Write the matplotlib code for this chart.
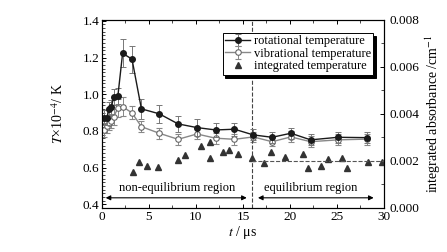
import numpy as np
import matplotlib
matplotlib.use("Agg")
from matplotlib import pyplot as plt
from matplotlib.ticker import MultipleLocator

plt.rcParams['font.family'] = ['Liberation Serif', 'DejaVu Serif']
plt.rcParams['mathtext.fontset'] = 'stix'

# time points (us)
t = [0.25, 0.5, 0.8, 1.0, 1.25, 1.7, 2.2, 3.2, 4.2, 6.1, 8.1, 10.1, 12.1, 14.1,
     16.1, 18.1, 20.1, 22.2, 25.1, 28.2]
# rotational temperature (x10^4 K)
rot = [0.872, 0.872, 0.92, 0.929, 0.984, 0.991, 1.223, 1.191, 0.92, 0.893, 0.838,
       0.818, 0.805, 0.809, 0.778, 0.765, 0.787, 0.751, 0.765, 0.763]
rot_err = [0.04, 0.04, 0.04, 0.04, 0.045, 0.045, 0.076, 0.074, 0.053, 0.05, 0.045,
           0.045, 0.04, 0.035, 0.03, 0.03, 0.03, 0.03, 0.03, 0.03]
# vibrational temperature (x10^4 K)
vib = [0.805, 0.827, 0.843, 0.854, 0.876, 0.925, 0.932, 0.898, 0.823, 0.787, 0.754,
       0.783, 0.760, 0.754, 0.767, 0.741, 0.767, 0.741, 0.751, 0.755]
vib_err = [0.04, 0.04, 0.04, 0.04, 0.045, 0.05, 0.05, 0.035, 0.03, 0.03, 0.03,
           0.03, 0.03, 0.03, 0.025, 0.025, 0.03, 0.03, 0.03, 0.03]

# integrated absorbance (cm^-1)
t_abs = [3.34, 3.93, 4.81, 5.97, 8.07, 8.79, 10.5, 11.53, 11.47, 12.86, 13.56, 14.44,
         15.96, 17.2, 17.97, 19.52, 21.41, 21.93, 23.29, 24.06, 25.49, 26.04, 28.26, 29.75]
absorb = [0.00154, 0.00196, 0.0018, 0.00172, 0.00204, 0.00226, 0.00264, 0.00281,
          0.00211, 0.00236, 0.00247, 0.00229, 0.00211, 0.00191, 0.00238, 0.00215,
          0.00231, 0.0017, 0.00179, 0.00209, 0.00211, 0.0017, 0.00197, 0.00194]

t_split = 16
abs_level = 0.002

fig = plt.figure(figsize=(4.47, 2.52), dpi=100)
fig.subplots_adjust(left=0.228, right=0.859, bottom=0.175, top=0.921)
ax = fig.add_subplot(111)
ax2 = ax.twinx()

ax.errorbar(t, rot, yerr=rot_err, color='#1a1a1a', marker='o', ms=4, lw=1.0,
            ecolor='#777777', elinewidth=0.7, capsize=2, capthick=0.7,
            label='rotational temperature', zorder=3)
ax.errorbar(t, vib, yerr=vib_err, color='#888888', marker='o', ms=4, lw=1.0,
            mfc='white', mec='#666666', mew=0.8,
            ecolor='#888888', elinewidth=0.7, capsize=2, capthick=0.7,
            label='vibrational temperature', zorder=2)
ax2.plot(t_abs, absorb, ls='none', marker='^', ms=4.5, color='#333333',
         label='integrated temperature')

ax2.plot([t_split, 30], [abs_level, abs_level], ls='--', color='#555555', lw=0.8)
ax.axvline(t_split, ls='--', color='#444444', lw=0.8)

ax.set_xlim(0, 30)
ax.set_ylim(0.38, 1.405)
ax2.set_ylim(0, 0.008)

# region arrows
ya = 0.435
ax.annotate('', xy=(0.1, ya), xytext=(15.7, ya),
            arrowprops=dict(arrowstyle='<|-|>', color='k', lw=0.8, mutation_scale=7))
ax.annotate('', xy=(16.3, ya), xytext=(29.2, ya),
            arrowprops=dict(arrowstyle='<|-|>', color='k', lw=0.8, mutation_scale=7))
ax.text(8.0, 0.49, 'non-equilibrium region', ha='center', va='center', fontsize=9)
ax.text(22.2, 0.49, 'equilibrium region', ha='center', va='center', fontsize=9)

ax.xaxis.set_major_locator(MultipleLocator(5))
ax.xaxis.set_minor_locator(MultipleLocator(2.5))
ax.yaxis.set_major_locator(MultipleLocator(0.2))
ax.yaxis.set_minor_locator(MultipleLocator(0.02))
ax2.yaxis.set_major_locator(MultipleLocator(0.002))
ax2.yaxis.set_minor_locator(MultipleLocator(0.001))
ax2.yaxis.set_major_formatter(matplotlib.ticker.FormatStrFormatter('%.3f'))

ax.tick_params(which='both', direction='in', top=True, labelsize=9.5, pad=2)
ax.tick_params(which='major', length=3, width=0.7)
ax.tick_params(which='minor', length=2, width=0.5)
ax2.tick_params(which='both', direction='in', labelsize=9.5, pad=4)
ax2.tick_params(which='major', length=3, width=0.7)
ax2.tick_params(which='minor', length=2, width=0.5)

ax.set_xlabel('$t$ / μs', fontsize=10, labelpad=1)
ax.set_ylabel('$T$×10$^{-4}$/ K', fontsize=10, labelpad=12)
ax2.set_ylabel('integrated absorbance /cm$^{-1}$', fontsize=10, labelpad=3)

h1, l1 = ax.get_legend_handles_labels()
h2, l2 = ax2.get_legend_handles_labels()
leg = ax2.legend(h1 + h2, l1 + l2, loc='upper right', bbox_to_anchor=(0.985, 0.965),
                 fontsize=9, frameon=True, fancybox=False, handlelength=2.0,
                 handletextpad=0.3, borderpad=0.2, labelspacing=0.05,
                 shadow={'ox': 2, 'oy': -2, 'color': 'k', 'alpha': 1})
leg.get_frame().set_edgecolor('k')
leg.get_frame().set_linewidth(0.7)

plt.savefig('out.png', dpi=100)
